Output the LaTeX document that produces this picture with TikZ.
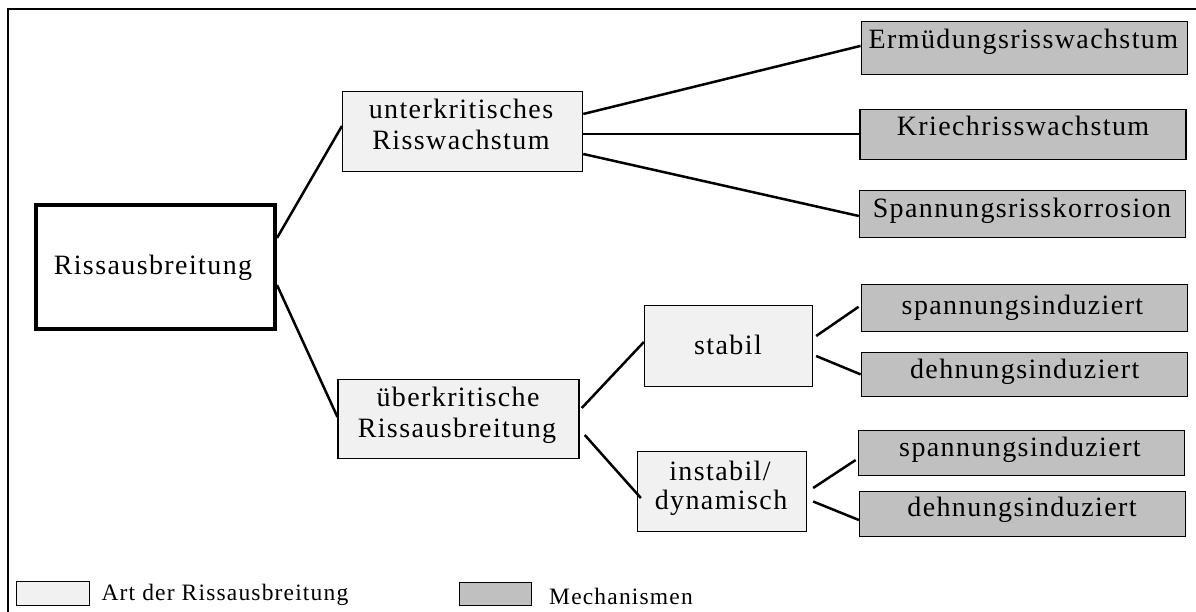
\documentclass[tikz,border=0pt]{standalone}
\usepackage{fontspec}
\setmainfont{Liberation Serif}[LetterSpace=5]
\usetikzlibrary{calc}
\definecolor{artfill}{HTML}{F1F1F1}
\definecolor{mechfill}{HTML}{C0C0C0}
\tikzset{
  box/.style={rectangle, draw=black, line width=1.3pt, inner sep=0pt, minimum width=#1},
  art/.style={box=240pt, fill=artfill},
  mech/.style={box=326pt, fill=mechfill},
  main/.style={rectangle, draw=black, line width=4pt, fill=white, inner sep=0pt},
  txt/.style={anchor=base, inner sep=0pt, font=\fontsize{28}{33}\selectfont},
  legtxt/.style={anchor=base west, inner sep=0pt, font=\fontsize{23.5}{28}\selectfont},
  conn/.style={line width=2.5pt},
  frame/.style={line width=2.4pt}
}
\begin{document}
\begin{tikzpicture}[x=1pt,y=-1pt]
\useasboundingbox (0,0) rectangle (1196,612);
\fill[white] (0,0) rectangle (1196,612);
\draw[frame] (8,613) -- (8,9) -- (1197,9);

% boxes
\node[main, minimum width=239pt, minimum height=124pt] (R) at (155.5,267) {};
\node[art, minimum height=80pt] (U) at (462.6,131.5) {};
\node[art, minimum width=241pt, minimum height=79pt] (UE) at (458.6,419) {};
\node[box=168pt, fill=artfill, minimum height=81pt] (ST) at (728.5,346) {};
\node[box=169pt, fill=artfill, minimum height=80pt] (IN) at (722,491.5) {};
\node[mech, minimum height=53pt] (E) at (1024.2,47.9) {};
\node[mech, minimum height=50pt] (K) at (1022.9,134.5) {};
\node[mech, minimum height=47pt] (S) at (1022.5,214) {};
\node[mech, minimum height=47pt] (SP1) at (1024.2,308.3) {};
\node[mech, minimum height=44pt] (D1) at (1024.3,374.4) {};
\node[mech, minimum height=45pt] (SP2) at (1021.3,453) {};
\node[mech, minimum height=45pt] (D2) at (1022.5,514) {};

% texts
\node[txt] (tR) at (153,275) {Rissausbreitung};
\node[txt] (tU1) at (461,118.3) {unterkritisches};
\node[txt] (tU2) at (461,150) {Risswachstum};
\node[txt] (tUE1) at (458,406) {überkritische};
\node[txt] (tUE2) at (457,437.3) {Rissausbreitung};
\node[txt] (tST) at (728,354.3) {stabil};
\node[txt] (tIN1) at (720,480) {instabil/};
\node[txt] (tIN2) at (721,509.3) {dynamisch};
\node[txt] (tE) at (1023.4,48.3) {Ermüdungsrisswachstum};
\node[txt] (tK) at (1023,136) {Kriechrisswachstum};
\node[txt] (tS) at (1022,218) {Spannungsrisskorrosion};
\node[txt] (tSP1) at (1022.5,314.3) {spannungsinduziert};
\node[txt] (tD1) at (1024.7,378) {dehnungsinduziert};
\node[txt] (tSP2) at (1020,456.7) {spannungsinduziert};
\node[txt] (tD2) at (1022,516.7) {dehnungsinduziert};

% connectors
\draw[conn] ([yshift=29pt]R.east) -- ([yshift=5.5pt]U.west);
\draw[conn] ([yshift=-18pt]R.east) -- ([yshift=2pt]UE.west);
\draw[conn] ([yshift=17.5pt]U.east) -- ([yshift=2pt]E.west);
\draw[conn] ([yshift=-2.5pt]U.east) -- ([yshift=0.5pt]K.west);
\draw[conn] ([yshift=-22.5pt]U.east) -- ([yshift=-2pt]S.west);
\draw[conn] ([xshift=2pt,yshift=11pt]UE.east) -- ([yshift=4pt]ST.west);
\draw[conn] ([xshift=5pt,yshift=-16pt]UE.east) -- ([xshift=4pt,yshift=-6.5pt]IN.west);
\draw[conn] ([xshift=3pt,yshift=10pt]ST.east) -- ([xshift=-2pt,yshift=1.5pt]SP1.west);
\draw[conn] ([xshift=3pt,yshift=-10pt]ST.east) -- (D1.west);
\draw[conn] ([xshift=6pt,yshift=3.5pt]IN.east) -- ([xshift=-2pt,yshift=-7pt]SP2.west);
\draw[conn] ([xshift=6pt,yshift=-10pt]IN.east) -- ([yshift=-6pt]D2.west);

% legend
\node[box=73pt, fill=artfill, minimum height=24pt] (L1) at (53.2,593.4) {};
\node[legtxt] (tL1) at (101.4,600) {Art der Rissausbreitung};
\node[box=72pt, fill=mechfill, minimum height=23pt] (L2) at (495.5,594) {};
\node[legtxt] (tL2) at (549,604) {Mechanismen};
\end{tikzpicture}
\end{document}
